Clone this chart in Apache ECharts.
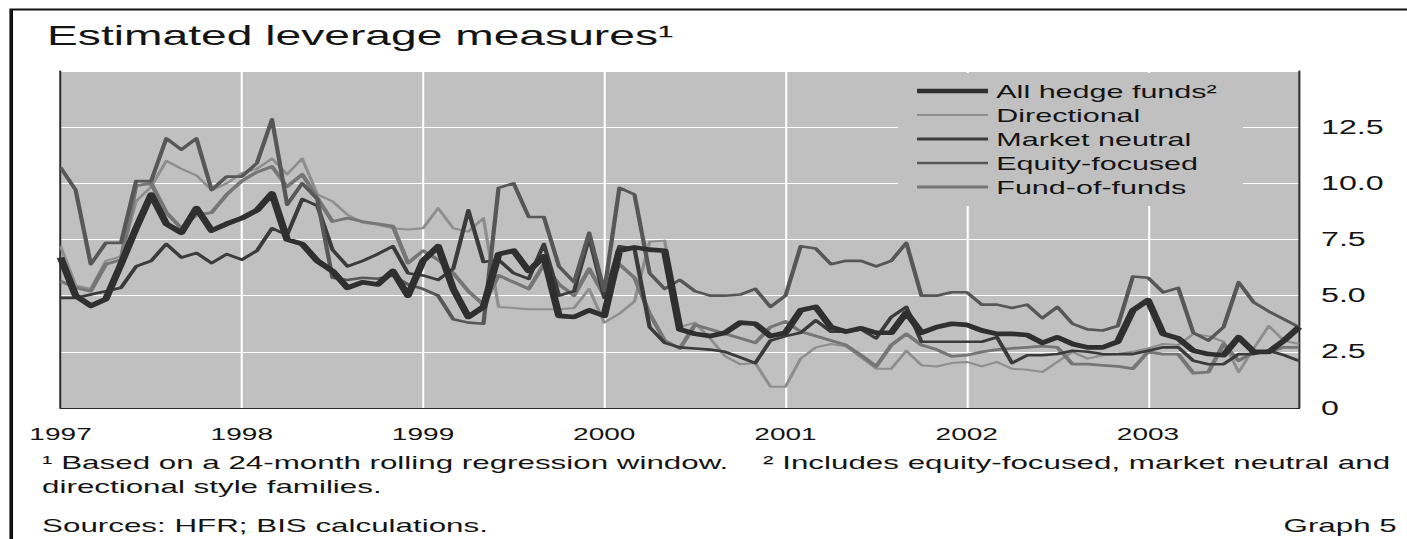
<!DOCTYPE html>
<html>
<head>
<meta charset="utf-8">
<script src="https://cdn.jsdelivr.net/npm/echarts@6/dist/echarts.min.js"></script>
<style>
  html, body { margin: 0; padding: 0; background: #fff; overflow: hidden; width: 1407px; height: 539px; }
  /* the whole graph is drawn narrow and widened horizontally */
  #chart { width: 852.7px; height: 539px; transform: scaleX(1.65); transform-origin: 0 0; }
</style>
</head>
<body>
<div id="chart"></div>
<script>
// Monthly observations, January 1997 to November 2003
const startYear = 1997;
const monthCount = 83;
const months = [];
for (let i = 0; i < monthCount; i++) {
  months.push(String(startYear + Math.floor(i / 12)) + '-' + String(i % 12 + 1).padStart(2, '0'));
}

const seriesNames = ['All hedge funds\u00B2', 'Directional', 'Market neutral', 'Equity-focused', 'Fund-of-funds'];

const allHedgeFunds = [
  6.7, 5.0, 4.55, 4.85, 6.4, 8.0, 9.5, 8.2, 7.8, 8.9, 7.9, 8.2,
  8.45, 8.8, 9.55, 7.5, 7.3, 6.55, 6.1, 5.35, 5.6, 5.5, 6.1, 5.0,
  6.55, 7.2, 5.3, 4.05, 4.5, 6.85, 7.0, 6.1, 6.75, 4.1, 4.05, 4.35,
  4.1, 7.0, 7.15, 7.05, 7.0, 3.5, 3.3, 3.2, 3.35, 3.8, 3.75, 3.2,
  3.35, 4.35, 4.5, 3.6, 3.4, 3.55, 3.35, 3.35, 4.25, 3.35, 3.6, 3.75,
  3.7, 3.45, 3.3, 3.3, 3.25, 2.9, 3.15, 2.85, 2.7, 2.7, 2.95, 4.35,
  4.8, 3.3, 3.1, 2.55, 2.4, 2.35, 3.15, 2.5, 2.5, 3.0, 3.6
];

const directional = [
  7.2, 5.45, 5.3, 6.55, 6.75, 9.2, 9.85, 11.0, 10.65, 10.35, 9.7, 10.0,
  10.45, 10.65, 11.1, 10.4, 11.1, 9.5, 9.2, 8.6, 8.25, 8.15, 8.0, 7.95,
  8.0, 8.9, 8.0, 7.85, 8.45, 4.5, 4.45, 4.4, 4.4, 4.4, 4.45, 5.3,
  3.8, 4.2, 4.75, 7.4, 7.45, 3.6, 3.8, 3.1, 2.3, 1.95, 2.0, 0.95,
  0.95, 2.2, 2.7, 2.85, 2.75, 2.25, 1.75, 1.75, 2.55, 1.9, 1.85, 2.0,
  2.05, 1.85, 2.05, 1.75, 1.7, 1.6, 2.05, 2.5, 2.2, 2.35, 2.4, 2.5,
  2.65, 2.85, 2.8, 3.3, 3.2, 2.95, 1.6, 2.65, 3.65, 3.0, 2.85
];

const marketNeutral = [
  4.9, 4.9, 5.05, 5.2, 5.35, 6.3, 6.55, 7.3, 6.7, 6.9, 6.45, 6.85,
  6.6, 7.0, 8.0, 7.7, 9.3, 9.0, 7.05, 6.3, 6.55, 6.85, 7.2, 6.0,
  5.9, 5.7, 6.2, 8.8, 6.5, 6.6, 6.0, 5.75, 7.3, 5.0, 5.2, 7.6,
  4.9, 7.2, 7.1, 3.6, 2.9, 2.7, 2.65, 2.6, 2.5, 2.25, 2.0, 3.0,
  3.2, 3.35, 3.9, 3.4, 3.4, 3.5, 3.1, 4.05, 4.5, 2.95, 2.95, 2.95,
  2.95, 2.95, 3.15, 2.0, 2.35, 2.35, 2.4, 2.55, 2.5, 2.4, 2.4, 2.4,
  2.55, 2.7, 2.7, 2.1, 1.95, 1.95, 2.4, 2.4, 2.55, 2.35, 2.1
];

const equityFocused = [
  10.7, 9.7, 6.4, 7.35, 7.35, 10.1, 10.1, 12.0, 11.5, 12.0, 9.7, 10.3,
  10.3, 10.9, 12.85, 9.05, 10.0, 9.3, 5.8, 5.7, 5.8, 5.75, 5.9, 5.5,
  5.3, 5.0, 3.95, 3.8, 3.75, 9.8, 10.0, 8.5, 8.5, 6.3, 5.6, 7.8,
  5.2, 9.8, 9.5, 6.0, 5.3, 5.7, 5.2, 5.0, 5.0, 5.05, 5.3, 4.5,
  5.0, 7.2, 7.1, 6.4, 6.55, 6.55, 6.3, 6.55, 7.35, 5.0, 5.0, 5.15,
  5.15, 4.6, 4.6, 4.45, 4.6, 4.0, 4.5, 3.75, 3.5, 3.45, 3.65, 5.85,
  5.8, 5.15, 5.35, 3.35, 3.0, 3.6, 5.6, 4.7, 4.3, 3.95, 3.6
];

const fundOfFunds = [
  5.65, 5.35, 5.2, 6.4, 6.6, 9.9, 10.0, 8.7, 8.0, 8.6, 8.7, 9.5,
  10.1, 10.5, 10.75, 9.85, 10.4, 9.35, 8.3, 8.45, 8.3, 8.2, 8.1, 6.45,
  7.0, 6.6, 6.0, 5.2, 4.6, 5.9, 5.6, 5.3, 6.4, 5.5, 5.0, 6.2,
  5.0, 6.4, 5.8, 4.2, 3.0, 2.65, 3.7, 3.5, 3.3, 3.1, 2.9, 3.6,
  3.85, 3.4, 3.2, 3.0, 2.8, 2.35, 1.85, 2.8, 3.3, 2.8, 2.6, 2.3,
  2.35, 2.5, 2.6, 2.65, 2.7, 2.75, 2.7, 1.95, 1.95, 1.9, 1.85, 1.75,
  2.5, 2.4, 2.4, 1.55, 1.6, 2.85, 2.1, 2.5, 2.5, 2.7, 2.7
];

const yTicks = { min: 0, max: 15, step: 2.5 };

const titleText = 'Estimated leverage measures\u00B9';
const footnoteLine1 = '\u00B9 Based on a 24-month rolling regression window.    \u00B2 Includes equity-focused, market neutral and';
const footnoteLine2 = 'directional style families.';
const sourceText = 'Sources: HFR; BIS calculations.';
const graphLabel = 'Graph 5';

const FONT = "'Liberation Sans', Arial, Helvetica, sans-serif";
const INK = '#141414';

// colour, stroke width in the plot, and stroke thickness of the key sample
const lineDefs = [
  { name: seriesNames[0], data: allHedgeFunds, color: '#2f2f2f', width: 4.6, key: 4.4, z: 6 },
  { name: seriesNames[1], data: directional,   color: '#8e8e8e', width: 2.0, key: 1.8, z: 3 },
  { name: seriesNames[2], data: marketNeutral, color: '#3b3b3b', width: 2.6, key: 3.2, z: 4 },
  { name: seriesNames[3], data: equityFocused, color: '#575757', width: 2.6, key: 2.6, z: 5 },
  { name: seriesNames[4], data: fundOfFunds,   color: '#767676', width: 2.8, key: 3.2, z: 3 }
];

const yearTick = (i) => i % 12 === 0;

const chart = echarts.init(document.getElementById('chart'), null, { renderer: 'svg' });

chart.setOption({
  animation: false,
  backgroundColor: '#ffffff',
  textStyle: { fontFamily: FONT },
  title: {
    text: titleText,
    left: 28.5,
    top: 21,
    padding: 0,
    textStyle: { fontSize: 28, fontWeight: 'normal', color: INK, fontFamily: FONT }
  },
  grid: {
    left: 36.7,
    top: 71,
    width: 750.6,
    height: 337,
    show: true,
    backgroundColor: '#c0c0c0',
    borderWidth: 0
  },
  legend: {
    orient: 'vertical',
    left: 555.8,
    top: 81.5,
    itemWidth: 43,
    itemHeight: 14,
    itemGap: 5,
    padding: 0,
    selectedMode: false,
    symbolKeepAspect: true,
    z: 8,
    textStyle: { fontSize: 18.5, color: INK, fontFamily: FONT },
    data: lineDefs.map((d) => ({
      name: d.name,
      icon: 'path://M0,0H43V' + d.key + 'H0Z',
      itemStyle: { color: d.color }
    }))
  },
  xAxis: [
    {
      type: 'category',
      data: months,
      boundaryGap: false,
      position: 'bottom',
      z: 1,
      axisLine: { show: true, lineStyle: { color: '#2a2a2a', width: 1.2 } },
      axisTick: { show: false },
      axisLabel: {
        interval: (i) => yearTick(i),
        formatter: (v) => v.slice(0, 4),
        margin: 18,
        fontSize: 17,
        color: INK,
        fontFamily: FONT
      },
      splitLine: {
        show: true,
        interval: (i) => yearTick(i) && i > 0,
        lineStyle: { color: '#ffffff', width: 1.25 }
      }
    },
    {
      type: 'category',
      data: months,
      boundaryGap: false,
      position: 'top',
      z: 1,
      axisLine: { show: true, lineStyle: { color: '#2a2a2a', width: 1.2 } },
      axisTick: { show: false },
      axisLabel: { show: false },
      splitLine: { show: false }
    }
  ],
  yAxis: [
    {
      type: 'value',
      position: 'right',
      min: yTicks.min,
      max: yTicks.max,
      interval: yTicks.step,
      z: 0,
      axisLine: { show: true, lineStyle: { color: '#2a2a2a', width: 1.2 } },
      axisTick: { show: false },
      axisLabel: {
        margin: 13.3,
        align: 'left',
        fontSize: 19.5,
        color: INK,
        fontFamily: FONT,
        formatter: (v) => (v >= yTicks.max ? '' : (v === 0 ? '0' : v.toFixed(1)))
      },
      splitLine: { show: true, lineStyle: { color: '#ffffff', width: 1 } }
    },
    {
      type: 'value',
      position: 'left',
      min: yTicks.min,
      max: yTicks.max,
      interval: yTicks.step,
      z: 1,
      axisLine: { show: true, lineStyle: { color: '#2a2a2a', width: 1.2 } },
      axisTick: { show: false },
      axisLabel: { show: false },
      splitLine: { show: false }
    }
  ],
  graphic: [
    {
      // outer frame of the exhibit
      type: 'rect',
      silent: true,
      z: 10,
      shape: { x: 6.8, y: 9.5, width: 2000, height: 2000 },
      style: { fill: 'none', stroke: '#111111', lineWidth: 2.2 }
    },
    {
      // plain panel behind the key
      type: 'rect',
      silent: true,
      z: 2,
      shape: { x: 544.2, y: 73, width: 209.1, height: 133 },
      style: { fill: '#c0c0c0' }
    },
    {
      type: 'text', silent: true, z: 10, x: 25.5, y: 462,
      style: { text: footnoteLine1, fontSize: 19, fontFamily: FONT, fill: INK, verticalAlign: 'middle' }
    },
    {
      type: 'text', silent: true, z: 10, x: 25.5, y: 486,
      style: { text: footnoteLine2, fontSize: 19, fontFamily: FONT, fill: INK, verticalAlign: 'middle' }
    },
    {
      type: 'text', silent: true, z: 10, x: 25.5, y: 525,
      style: { text: sourceText, fontSize: 19, fontFamily: FONT, fill: INK, verticalAlign: 'middle' }
    },
    {
      type: 'text', silent: true, z: 10, x: 846.5, y: 525,
      style: { text: graphLabel, fontSize: 19, fontFamily: FONT, fill: INK, align: 'right', verticalAlign: 'middle' }
    }
  ],
  series: lineDefs.map((d) => ({
    name: d.name,
    type: 'line',
    xAxisIndex: 0,
    yAxisIndex: 0,
    data: d.data,
    symbol: 'none',
    showSymbol: false,
    smooth: false,
    z: d.z,
    lineStyle: { color: d.color, width: d.width, join: 'round' },
    itemStyle: { color: d.color },
    emphasis: { disabled: true }
  }))
});
</script>
</body>
</html>
